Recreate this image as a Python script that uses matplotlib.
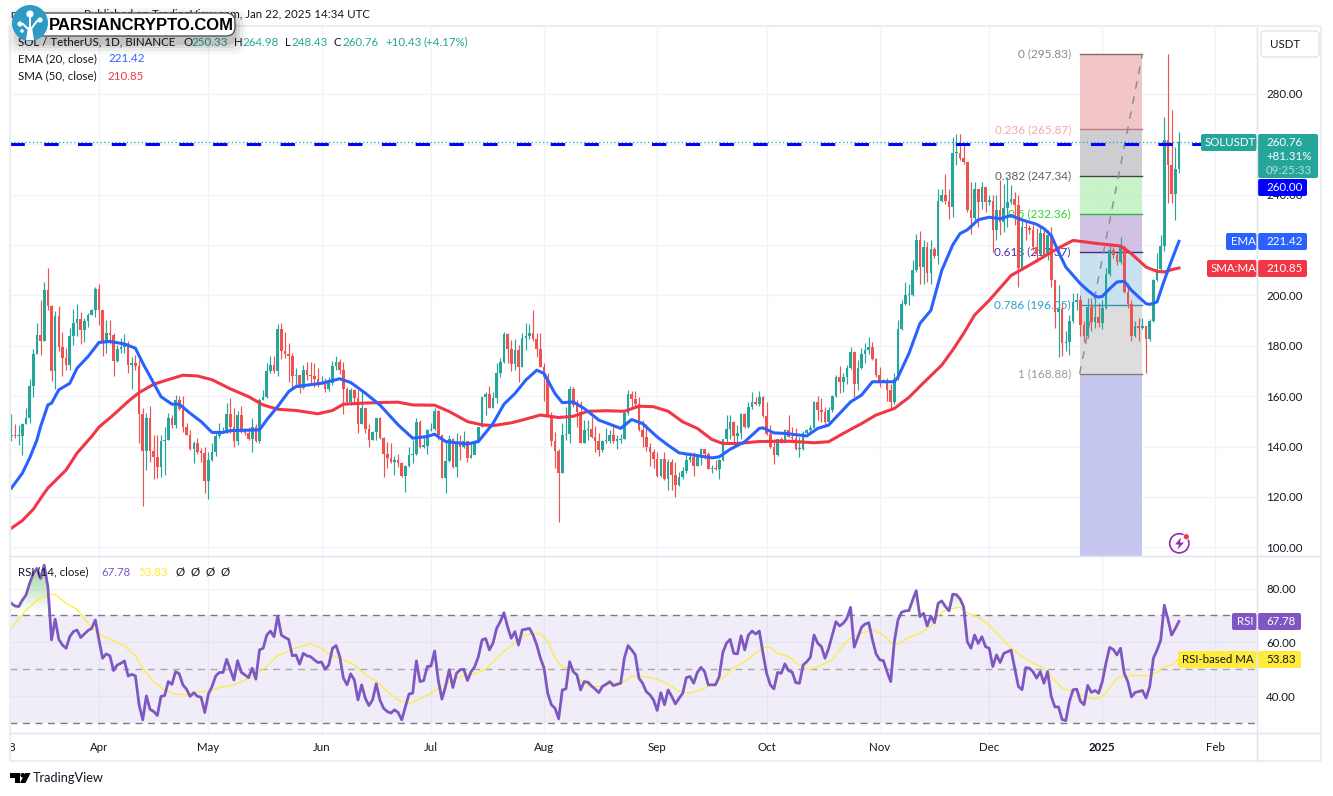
import numpy as np
import matplotlib
matplotlib.use('Agg')
import matplotlib.pyplot as plt
from matplotlib.patches import FancyBboxPatch, Circle, Polygon

plt.rcParams['font.family'] = ['Lato', 'DejaVu Sans']
FS = 8.3

# daily candles, index 0 is Mar 8 2024 (open = previous close)
first_open = 144
closes = [
    144.4,144,144.2,149,151.2,164.2,176.8,184.3,182,202.2,
    195.8,169.8,191.9,179.3,175.3,172.4,183.9,188.9,190.7,186.3,
    189.9,192.2,194.2,202.6,194,181,185,184.3,174.1,178.6,
    179.4,180.7,172.4,173.3,172,153,138.3,151.2,138.3,135.8,
    131.7,142.2,142.6,151.2,148.6,158.3,154.8,147.7,144.6,139.1,
    141.3,137.9,137.6,126.5,134.7,137.8,144,145.7,146.1,153,
    147.9,142,152.6,146,145.3,142.9,147.7,142,158.5,159.8,
    169.8,172.4,169.8,186.7,178.1,176.8,176,167.8,168.4,163.1,
    170.4,168.4,168,166.7,164.9,165.8,162.8,165.1,172,173.7,
    170.2,162.8,157.5,162.5,159.2,149,155.2,146.9,142.6,145.7,
    151.2,143.3,137.1,135.4,133.7,134.7,133.4,128.4,132.3,136.7,
    137.1,149.7,140,140.4,146.6,146.9,154.2,144.6,127.7,134.3,
    142.9,131.7,141.6,139.7,142,135.6,136.6,142,147.7,159.8,
    160.9,155.2,159.2,169,173.6,184.6,178.9,172.7,178.5,171.7,
    182.9,183.8,184.9,182.5,178.9,171.7,167.4,152.5,142.3,138.3,
    129.5,144.5,144.9,163,156.4,153.8,141.5,146.5,146.8,143.6,
    142.3,138.5,142,142.3,144.5,142.3,142.5,143,153.4,160.8,
    158.7,156.7,146.5,143.8,139.9,137.9,135.1,128.2,135,127.2,
    133.8,128.6,124.6,127.8,130.1,134.8,135.9,132.2,135.9,138.9,
    137.2,131,131.3,131.1,134.6,142.8,146.8,149.8,144.2,145.2,
    152.8,147.8,155.8,157.6,156.7,159.5,152,144.9,139.9,136.6,
    142.8,141.5,146.5,143.8,143.2,138.9,139.2,145.4,146.5,147.4,
    157.7,154.4,153.8,149.8,154.4,160,167.7,165.7,167.4,171,
    177.6,164.8,171.3,176.7,178.5,179.6,174.6,168.3,165.7,166.4,
    162.4,157.5,166.6,186.5,196.5,200,200.3,210,222,211.2,
    219,209,218.5,215.6,237.3,239.8,237.4,235,256.5,256.6,
    254.6,252.9,233.9,230.6,242.2,237.2,243.1,237.2,237.6,225.9,
    234,229,234.5,237.2,238.2,236,210.7,227,226.8,226,
    219.3,216.6,224.6,216,224,206,193.5,194.5,181,181.4,
    190,197.5,198,188.2,183.8,195.5,189.5,191.5,188.9,194.8,
    208.3,217.9,216,213.2,219.2,201.3,196.7,183.7,187.7,187,
    188,182.8,190,206,210.6,219.5,261.8,251.6,240.4,250.33,
    260.76]
highs = [
    153,149,148.5,149.5,155.2,166.9,178.8,189,198.2,205.2,
    210.7,196.2,193.6,195.8,185.6,179,187,194.5,196.6,193.2,
    190.9,192.9,194.4,203.5,204.5,192.2,190.3,190.3,185,180.3,
    183,184.7,181.7,175.4,176.4,174.4,155.2,153.2,156.1,144.6,
    144.6,144.6,147.9,153.2,152.6,160.5,160.1,160.1,149.5,146.6,
    142,143.3,139.3,140,138,141.3,145.3,149.3,147.9,157.2,
    159.2,155.2,153.9,156.1,147.3,147.9,151.2,149,159.2,162.5,
    173.3,176,176,188.7,188.9,185.6,181,177,171,168.4,
    172.4,173.7,173.7,173.3,171,167.8,167.1,167.5,174.1,176,
    174.7,173.7,163.8,163.1,162.8,162.5,161.8,155.2,149,146.3,
    151.5,151.9,143.6,141.6,141.3,136.3,137,134,132.7,140,
    142.6,151.2,150.6,143.6,146.9,149.3,155.2,154.6,144.6,142,
    144.6,143.3,145.3,144.4,146,142.2,141.3,142.6,147.9,160.1,
    161.8,164,161.8,173.2,175,185.6,185.2,182.3,182.5,180.3,
    185.2,188.9,188.6,194.2,185.2,184.9,173,169.3,153.8,145.8,
    139.2,149.4,155.8,164,163.7,158.4,158,150.7,150.5,151.8,
    148.1,145.4,142.5,147.2,146.5,148.9,144.5,144.9,154.2,162.4,
    162,162,159.5,150.5,149.1,141.2,139.2,137.9,135.2,137.9,
    135.2,135.2,133.9,129.9,131.9,137.2,137.9,137.9,137.2,139.6,
    139.2,137.9,132.6,134.6,135.2,143,152.5,152.5,150.2,148.5,
    153.4,153.4,157.7,161.6,159.5,162,160,157.7,148.5,142.8,
    143,143.8,146.8,152.5,147.8,147.2,143.8,146.2,146.8,148.5,
    158.1,160,159.1,155.8,155.8,160.4,168.3,171.9,169,172.3,
    179.6,178,174.3,179,180.9,183.6,181.6,175,171.4,166.9,
    167,165,169.3,190.2,198,205.4,204.6,213.9,224.5,225.4,
    221.8,221,221.8,219.2,242.3,242.3,248.3,242.3,262.8,264.2,
    264.2,260.2,252.9,245,245,242.3,245,242.3,240,239.7,
    240,245.6,244.3,247,243.7,241,240,230,230,228,
    228,226.9,228,226.9,226,227,206,204,197,186,
    192,200.8,201,200,190,199,199,200,197,198,
    211,220,219,217,223,220,205,198,190,191,
    191,188,190.5,206.5,216.9,224,270.7,295.83,273.4,259,
    264.98]
lows = [
    142,143.5,140.5,136.7,148.9,149.3,159.8,176.6,176.4,182,
    194,166,162.8,178,167.8,170.4,170.4,180.3,183.7,180.7,
    181.3,187.6,192.2,191.6,188.3,176,177,180.7,168,173.7,
    177,177,169.1,162.8,170.4,141.3,116.2,130.7,134,127,
    127.4,128.1,128.8,142.4,147.3,147.3,154.5,145.7,144.4,138.8,
    133.4,137.1,133.7,121.5,119.1,134.4,136.3,143.3,145.3,145.3,
    145.3,140,140.7,145.3,144.6,142.6,138,141.7,141.3,158.3,
    159.2,169.1,169.1,167.8,174.7,175,165.8,162.8,163.8,161.2,
    162.9,166.5,164.5,163.8,163.8,164.9,161.8,162.2,164.5,170.4,
    168.8,153,156.5,156.5,156.5,145.3,149,145.3,140,142.4,
    142.6,143,128.1,131.4,133.4,128.8,132,128.1,122.1,132,
    133.4,136.7,139.3,139.3,137.1,146.3,146.6,142.6,127.4,121.5,
    134,131.4,128.1,134.7,139.3,134,135.6,138.7,141.3,147.7,
    152.6,155.2,155.2,157.1,167.7,173,173,170.1,170.3,165.7,
    171.4,178.3,182.5,182,175.4,171.4,158.1,152.5,140.1,131.3,
    110.1,129.5,142.5,141.5,155.8,147.8,141.2,141.2,142.5,143.2,
    137.9,136.3,137.9,141.2,141.2,141.5,139.2,141.2,142.8,152.5,
    155.1,155.8,146.2,139.9,138.3,132.2,131.3,127.9,127.9,126.9,
    122.9,122.9,120,124.2,127.3,129.5,133.9,128.2,132.2,132.6,
    135.2,130.9,129.5,130.6,127.3,134.3,141.2,142.8,141.2,141.9,
    142.8,147.5,147.5,154.7,156.4,156,151.8,144.5,139.6,133,
    136.3,141.2,141.5,143.6,141.9,138.5,135.9,138.5,144.9,145.4,
    147.2,150.5,149.8,147.8,149.4,153.8,159.5,161.1,161.7,165,
    170.6,159.7,162.6,170.6,173,176.7,174.3,167.7,163.7,165.7,
    158.1,155.1,156.8,166.4,186.2,196.2,196,199.6,209.3,204.6,
    204.6,205.3,204.6,215,212.6,237,236.4,230.4,231,251.6,
    253.6,252.2,233,224.5,229.8,227,234.4,233,236,217.2,
    222,223.8,225,227,236.4,228,203.3,210,222,224.5,
    217.9,213.3,215.9,215.3,214,203.5,186.9,175.6,176,178,
    176.5,189,194,184,181.5,183,186,187,187.5,186.5,
    194.5,207.5,215,212,212.5,201,195,182,183.5,182,
    186.5,169.3,182,189.5,205.5,210,217.5,236.7,236.7,229.8,
    248.43]

ema_days = [0,3,5,7,8,10,11,13,16,18,21,24,27,31,34,36,38,41,44,46,49,52,55,58,60,68,70,73,76,78,85,90,93,97,101,106,110,
            114,116,119,125,128,132,135,138,141,144,146,149,151,154,157,161,167,170,173,177,180,183,187,192,194,197,
            201,205,206,209,212,218,221,224,227,230,233,236,239,242,243,246,249,252,255,258,260,262,265,268,271,274,
            276,278,281,283,285,287,289,291,293,295,297,298,299,301,303,305,307,309,311,312,314,316,318,320]
ema_vals = [123.5,129.4,135.4,142.6,147.9,156.5,157.2,162.5,165.1,171.1,175.7,181.3,181.7,180.7,179,173.1,167.8,159.8,156.8,156.8,153.2,149.9,145.6,145.6,146.3,146.6,150.6,155.9,161.8,163.8,165.1,166.9,165.4,161.2,156.5,148.6,143.3,
            144,144.9,142,141,142,149.1,156.8,161,166.4,170.3,169,161,157.4,157.7,155.1,150.5,147.2,150.7,149.1,143.8,140.5,137.5,136.6,135.5,135.9,138.9,
            141.9,147.2,147.4,145.4,145.2,144.2,147.2,148.5,153.1,157.7,160.4,165.7,165.7,165.7,167.6,176.9,188.8,194,209.9,220,224.5,226,230,231,230.4,231.7,
            230.4,229.5,228.2,226.5,223.8,217.2,211.2,207.9,204.6,202,199.7,199.3,199.6,202.6,205.3,205.6,202,199.3,196.7,196.4,197.4,206,213.9,221.42]
sma_days = [0,3,6,9,10,15,18,22,24,28,32,35,39,42,47,51,55,60,65,69,73,78,84,88,91,96,102,106,110,116,120,125,129,132,
            137,140,145,150,154,158,163,168,172,176,180,184,188,192,195,199,205,213,220,224,228,233,237,242,246,250,255,258,261,
            264,268,274,280,287,291,298,304,307,311,314,316,318,320]
sma_vals = [107.6,110.6,115.1,121.5,123.5,130.7,137.4,144,147.7,152.6,157.9,161.4,164.7,166.1,168.3,168,166.5,162.9,159.8,156.5,154.8,154.3,153,154.3,156.8,157.2,157.5,157.6,156.5,156.4,153.9,149.9,148.6,148.3,
            149.4,150.5,152.5,151.5,152,154,154.2,154,156,155.8,154,149.8,147.2,142.8,141.2,141.2,142,142.1,141.5,141.9,145.2,149.1,152.5,155.1,159.5,165.3,172.3,178.3,184.9,
            192.2,198,207.9,212.8,218.8,221.8,220.5,219.6,216.5,211.2,209.5,209.3,210.2,210.85]

rsi = [
    74.5,73.5,73.3,75.7,77.6,81.9,85.6,87.5,83.8,88.7,
    80.7,60.9,68.6,61.1,59,57.8,62.1,64,64.6,61.8,
    63.1,64.4,65.2,68.3,60.9,54.1,55.7,55,49.5,51.6,
    52.2,53.1,47.5,48.1,47.5,36.8,31.2,40.1,35.1,34.3,
    32.8,39.9,40.2,45.4,44.4,49.1,48.3,44.2,42.6,39.9,
    41.3,39.9,39.6,33.9,40.8,43.6,47.5,48.8,48.8,53.7,
    49.8,46,53.2,48.9,47.9,46.9,50.4,46.3,57.2,57.8,
    62.7,64.2,62.1,69.8,62.7,61.8,61.1,55,55.3,51.9,
    55.9,55,54.7,53.5,52.5,52.7,50,51.6,57.8,58.8,
    54.7,46.7,44.2,48.3,46,38.6,44.2,39.2,36.5,38.6,
    44.6,38.6,35.5,34.3,33.7,34.9,33.9,31.2,36.1,40.8,
    41.1,53.1,45.4,45.8,51,51.2,56.8,46,38.9,43.6,
    49.8,43.2,48.5,49.8,50,45.8,49.1,51,54.7,60.9,
    61.4,57.2,59.7,65.2,67.7,71,65.8,61.5,64,59,
    64.6,64.9,65.2,62.7,59,54.1,50.4,41.1,36.8,35.5,
    31.6,42.3,42.7,52.8,49.1,47.9,42.3,45.4,45.2,43.8,
    42.6,41.3,43.6,44.4,45.4,43.9,44.4,44.8,54.1,58.8,
    57.2,55.3,46.7,44.8,41.7,40.5,38.6,34.7,41.3,36.8,
    42.3,39.9,37.1,39.2,41.1,46.9,47.3,44.8,48.8,50.7,
    49.1,44.2,44.2,44.2,47.3,56.2,59.7,61.1,55.9,55.7,
    62.4,57.2,62.7,64.2,63.1,64.2,55.9,48.5,44.2,42.7,
    48.8,48.5,52,49.5,48.9,45,44.8,51.6,52.8,54.5,
    62.7,59.7,58.4,54.1,57.8,62.7,67.7,66.1,67.1,68.9,
    73,58.2,61.9,65.6,66.8,67.3,60.9,55.7,53.5,53.2,
    49.1,45.4,60.3,68.3,71.2,71.7,71.8,75.7,79.2,69.6,
    70.8,66.1,69.8,67.3,74.5,75.4,73.3,71.7,77.9,77.7,
    76.2,73.2,60.2,57.8,62.7,59.6,62.1,58.4,57.8,51,
    55.3,52.5,55.9,56.5,57.1,50.4,43.6,42.4,50.6,50.4,
    49.1,46.7,49.1,44.8,49.1,39.9,36,36,31.3,30.9,
    38.1,42.4,42.6,38.1,36.8,44,41.4,42.1,41.1,45.4,
    52.2,58.1,57.4,55.3,57.8,48.5,45.4,39.7,41.4,41.7,
    42.1,39.3,43.6,54.1,57.1,60.8,73.8,68.5,62.7,65.1,
    67.78]
rsi_ma_days = [0,2,4,7,10,12,15,18,20,22,25,28,31,34,36,39,42,45,48,51,54,57,61,64,66,70,73,77,80,82,85,88,91,94,97,100,103,106,109,112,115,118,121,124,127,130,133,
               135,138,141,143,145,147,149,151,153,156,159,162,165,167,170,172,175,178,181,183,186,189,192,195,198,201,204,206,208,210,213,216,219,222,225,228,230,233,236,239,241,243,246,249,252,255,258,260,
               262,265,268,271,274,277,280,283,285,288,291,294,297,299,301,303,305,308,311,314,316,318,320]
rsi_ma_vals = [65.2,68.9,72,75.5,77.8,77.8,74.5,72.3,68.9,65.2,62.4,60.6,58.7,55,50.4,45.4,42.1,40.8,40.5,41.5,41.7,43.2,44.2,46,47,51,55,57.4,58.7,59.5,57.8,55,53.5,51.6,47.9,45.7,41.7,38.6,37.3,39,41.1,43.6,46,47.9,48.3,50,54.1,
               56.6,59.9,62.7,63.3,63.1,60.3,54.1,51,50.4,45.8,43.3,43.8,45,44.6,47.3,47.6,47,45.8,43.6,41.7,41.1,42.3,44.2,46.7,50.7,52.8,55.9,58,58.2,55.9,54.7,51.6,49.8,51.6,53.5,59,61.5,63.4,64.6,62.7,59.9,59.3,61.9,63.4,65.8,71.4,72.6,73,
               70.9,69.5,66.4,62.1,57.8,54.7,52.2,50.6,47.3,43,41.7,39.7,39,39.9,43,46.7,47.5,47.7,47.5,48.8,51,51.6,53.83]

fib_ratios = ['0', '0.236', '0.382', '0.5', '0.618', '0.786', '1']
fib_prices = [295.83, 265.87, 247.34, 232.36, 217.37, 196.05, 168.88]
fib_text = ['#8a8a8a', '#f5a6ac', '#5d5d62', '#2fd02f', '#512da8', '#2e9ad0', '#9a9a9a']
fib_line = ['#85686a', '#c2787e', '#45454a', '#3cb43c', '#4a2a80', '#3a8fb0', '#7d7d7d']
fib_fill = ['#f1c0c0', '#c9c9ce', '#c2f1c2', '#ccbbdf', '#c2dff0', '#dadada', '#c0c1ee']

# 220 and 260 sit behind the price boxes on the right scale
price_ticks = [100, 120, 140, 160, 180, 200, 220, 240, 260, 280]
price_tick_labels = ['100.00', '120.00', '140.00', '160.00', '180.00', '200.00', '', '240.00', '', '280.00']
rsi_ticks = [40, 60, 80]
month_days = [0, 24, 54, 85, 115, 146, 177, 207, 238, 268, 299, 330]
month_labels = ['8', 'Apr', 'May', 'Jun', 'Jul', 'Aug', 'Sep', 'Oct', 'Nov', 'Dec', '2025', 'Feb']

GREEN = '#26a69a'
RED = '#ef5350'
GRID = '#f0f3fa'
LINE = '#e0e3eb'
TXT = '#131722'

W, H = 1333, 796
fig = plt.figure(figsize=(W / 100, H / 100), dpi=100, facecolor='white')


def pane(left, top, right, bottom):
    return fig.add_axes([left / W, 1 - bottom / H, (right - left) / W, (bottom - top) / H])


ax = pane(10, 27, 1257, 556)
ax2 = pane(10, 556, 1257, 733)
for a in (ax, ax2):
    a.set_xlim(-0.38, 341.4)
    a.set_xticks(month_days[1:])
    a.grid(True, color=GRID, lw=1)
    a.set_axisbelow(True)
    a.yaxis.tick_right()
    a.tick_params(length=0, labelsize=FS, labelcolor=TXT, pad=6.5)
    for s in a.spines.values():
        s.set_visible(False)
ax.set_ylim(96.55, 306.5)
ax.set_yticks(price_ticks)
ax.set_yticklabels(price_tick_labels)
ax.tick_params(axis='x', labelbottom=False)
ax2.set_ylim(26.3, 92.1)
ax2.set_yticks(rsi_ticks)
ax2.set_yticklabels(['%.2f' % v for v in rsi_ticks])
ax2.set_xticks(month_days)
ax2.set_xticklabels(month_labels)
ax2.tick_params(axis='x', pad=6.5)
ax2.get_xticklabels()[10].set_fontweight('bold')
ax2.xaxis.get_gridlines()[0].set_visible(False)

# fibonacci block
fib_l, fib_r = 292.8, 310
edges = fib_prices + [96.55]
for i in range(7):
    ax.fill_between([fib_l, fib_r], edges[i + 1], edges[i], color=fib_fill[i], alpha=0.9, lw=0, zorder=1)
for i in range(7):
    ax.plot([fib_l, fib_r], [fib_prices[i]] * 2, color=fib_line[i], lw=1, zorder=1.5)
    ax.text(fib_l - 2.4, fib_prices[i], '%s (%.2f)' % (fib_ratios[i], fib_prices[i]), color=fib_text[i],
            ha='right', va='center', fontsize=FS + 0.2, zorder=1.5)
ax.plot([fib_l, fib_r], [fib_prices[-1], fib_prices[0]], color='#8f8f93', lw=1.1, ls=(0, (5, 5)), zorder=1.6)

# candles
days = np.arange(len(closes))
closes_a = np.array(closes)
opens = np.r_[first_open, closes_a[:-1]]
up = closes_a >= opens
colors = np.where(up, GREEN, RED)
ax.vlines(days, lows, highs, colors=colors, lw=0.85, zorder=3)
body = np.maximum(np.abs(closes_a - opens), 0.5)
ax.bar(days, body, bottom=np.minimum(opens, closes_a), width=0.72, color=colors, lw=0, zorder=3.1)

ax.plot(sma_days, sma_vals, color='#f23645', lw=2.2, zorder=4, solid_joinstyle='round')
ax.plot(ema_days, ema_vals, color='#2962ff', lw=2.2, zorder=4.1, solid_joinstyle='round')

# last price and the drawn level at 260
ax.axhline(260.76, color=GREEN, lw=0.9, ls=(0, (1, 2)), zorder=4.5)
ax.axhline(260, color='#0000ff', lw=2.2, ls=(0, (4.7, 6.35)), dash_capstyle='butt', zorder=4.4)

# rsi pane
ax2.axhspan(30, 70, color='#7e57c2', alpha=0.1, lw=0, zorder=1)
ax2.axhline(70, color='#787b86', lw=1, ls=(0, (5, 4)), zorder=1.5)
ax2.axhline(50, color='#a5a7ae', lw=1, ls=(0, (5, 4)), zorder=1.5)
ax2.axhline(30, color='#787b86', lw=1, ls=(0, (5, 4)), zorder=1.5)

# overbought gradient, fading down to 71
rsi_a = np.array(rsi)
rgba = np.ones((64, 1, 4))
rgba[:, 0, 0], rgba[:, 0, 1], rgba[:, 0, 2] = 0.3, 0.69, 0.31
rgba[:, 0, 3] = np.linspace(0, 0.6, 64)
grad = ax2.imshow(rgba, extent=[-0.38, 341.4, 71, 90], origin='lower', aspect='auto', zorder=1.6)
over = np.where(rsi_a > 71, rsi_a, 71)
verts = [(d, v) for d, v in zip(days, over)] + [(days[-1], 71), (days[0], 71)]
clip = Polygon(verts, transform=ax2.transData, fc='none', ec='none')
ax2.add_patch(clip)
grad.set_clip_path(clip)
ax2.set_xlim(-0.38, 341.4)
ax2.set_ylim(26.3, 92.1)

ax2.plot(rsi_ma_days, rsi_ma_vals, color='#ffeb3b', lw=0.9, zorder=2)
ax2.plot(days, rsi, color='#7e57c2', lw=2.0, zorder=3, solid_joinstyle='round')

# everything in screen pixels goes on this layer
ov = fig.add_axes([0, 0, 1, 1], zorder=10)
ov.set_xlim(0, W)
ov.set_ylim(H, 0)
ov.axis('off')
ov.patch.set_alpha(0)


def hline(x0, x1, y, c=LINE, lw=1.0):
    ov.plot([x0, x1], [y, y], color=c, lw=lw, solid_capstyle='butt')


def vline(x, y0, y1, c=LINE, lw=1.0):
    ov.plot([x, x], [y0, y1], color=c, lw=lw, solid_capstyle='butt')


def box(x0, y0, x1, y1, c):
    ov.add_patch(FancyBboxPatch((x0 + 1, y0 + 1), x1 - x0 - 2, y1 - y0 - 2, boxstyle='round,pad=1,rounding_size=2',
                                fc=c, ec='none', lw=0))


def txt(x, y, s, c=TXT, size=FS, ha='left', **kw):
    ov.text(x, y, s, color=c, fontsize=size, ha=ha, va='center', **kw)


# frame and dividers
vline(10, 26, 761, '#eceef4', 1.6)
vline(1321, 26, 761, '#eceef4', 1.6)
hline(10, 1321, 26, '#eceef4', 1.6)
hline(10, 1321, 761, '#eceef4', 1.6)
hline(10, 1320, 556)
hline(10, 1320, 733)
vline(1257, 27, 761)

# right scale labels
ov.add_patch(FancyBboxPatch((1262, 32), 56, 24, boxstyle='round,pad=1,rounding_size=4', fc='white', ec=LINE, lw=1))
txt(1270, 44.5, 'USDT')
box(1201, 134, 1256.5, 151, GREEN)
txt(1205, 143, 'SOLUSDT', 'white')
box(1258, 134, 1318, 178, GREEN)
txt(1266, 143, '260.76', 'white')
txt(1266, 157, '+81.31%', 'white')
txt(1266, 171, '09:25:33', '#b6e1dc')
box(1258, 179, 1307, 196, '#0000ff')
txt(1266, 187.5, '260.00', 'white')
box(1226, 233, 1256.5, 250, '#2962ff')
txt(1231, 241.5, 'EMA', 'white')
box(1258, 233, 1307, 250, '#2962ff')
txt(1266, 241.5, '221.42', 'white')
box(1207, 260, 1256.5, 277, '#f23645')
txt(1211, 268.5, 'SMA:MA', 'white')
box(1258, 260, 1307, 277, '#f23645')
txt(1266, 268.5, '210.85', 'white')
box(1232, 613, 1256.5, 630, '#7e57c2')
txt(1237, 621.5, 'RSI', 'white')
box(1258, 613, 1301, 630, '#7e57c2')
txt(1266, 621.5, '67.78', 'white')
box(1178, 651, 1256.5, 668, '#ffeb3b')
txt(1182, 659.5, 'RSI-based MA', TXT)
box(1258, 651, 1301, 668, '#ffeb3b')
txt(1266, 659.5, '53.83', TXT)

# header and legends
txt(370, 15, 'Published on TradingView.com, Jan 22, 2025 14:34 UTC', ha='right')
txt(10, 15, 'm')
txt(18, 42, 'SOL / TetherUS, 1D, BINANCE')
for x, s in [(183, 'O'), (234, 'H'), (285, 'L'), (334, 'C')]:
    txt(x, 42, s)
for x, s in [(191, '250.33'), (242, '264.98'), (291, '248.43'), (342, '260.76'), (385, '+10.43'), (424, '(+4.17%)')]:
    txt(x, 42, s, GREEN)
txt(18, 59, 'EMA (20, close)')
txt(108, 59, '221.42', '#2962ff')
txt(18, 76, 'SMA (50, close)')
txt(107, 76, '210.85', '#f23645')
txt(18, 572, 'RSI (14, close)')
txt(101.5, 572, '67.78', '#7e57c2')
txt(138, 572, '53.83', '#ffeb3b')
for x in (175, 190.5, 205.5, 220.5):
    txt(x, 572, '\u00d8')

# watermark sits over the legend text
for grow, al in [(12, 0.03), (9, 0.05), (6, 0.07), (3, 0.1)]:
    ov.add_patch(FancyBboxPatch((20 - grow, 16 - grow + 4), 214 + 2 * grow, 22 + 2 * grow, zorder=5,
                                boxstyle='round,pad=0,rounding_size=10', fc='black', ec='none', alpha=al))
ov.add_patch(FancyBboxPatch((30, 13), 205, 23, boxstyle='round,pad=0,rounding_size=9', fc='white', ec='#555555', lw=1, zorder=5))
ov.text(49, 25, 'PARSIANCRYPTO.COM', color='black', fontsize=12, va='center', family=['Liberation Sans'], fontweight='bold', zorder=6)
ov.add_patch(Circle((30, 23), 18, fc='#2e9bc6', ec='none', zorder=6))
ov.add_patch(Polygon([(26, 40), (28, 27), (32, 27), (34, 40)], fc='white', ec='none', zorder=6))
ov.plot([30, 30], [28, 16], color='white', lw=1.4, zorder=6)
ov.plot([29, 23, 20], [30, 24, 24], color='white', lw=1.4, zorder=6)
ov.plot([31, 37, 40], [29, 21, 21], color='white', lw=1.4, zorder=6)
for cx, cy, r in [(30, 14, 3.6), (20, 24, 2.6), (40, 20, 2.6), (22, 31, 1.8)]:
    ov.add_patch(Circle((cx, cy), r, fc='white', ec='none', zorder=6))

# lightning icon
ov.add_patch(Circle((1179.3, 543.3), 9.6, fc='none', ec='#9c27b0', lw=1.2))
ov.add_patch(Polygon([(1181, 537.5), (1175, 544.5), (1179, 544.5), (1177.5, 549.5), (1184, 542.5), (1180, 542.5)],
                     fc='#9c27b0', ec='none'))
ov.add_patch(Circle((1186.3, 536.7), 3, fc='#f23645', ec='white', lw=0.6))

# TradingView mark
ov.add_patch(Polygon([(10, 773), (19.5, 773), (19.5, 783), (14.5, 783), (14.5, 777.5), (10, 777.5)], fc='black', ec='none'))
ov.add_patch(Circle((22.6, 775.2), 2.2, fc='black', ec='none'))
ov.add_patch(Polygon([(25, 773), (30.5, 773), (25.5, 783), (20, 783)], fc='black', ec='none'))
txt(33, 778, 'TradingView', TXT, 9.2)

fig.savefig('out.png', dpi=100, facecolor='white')
